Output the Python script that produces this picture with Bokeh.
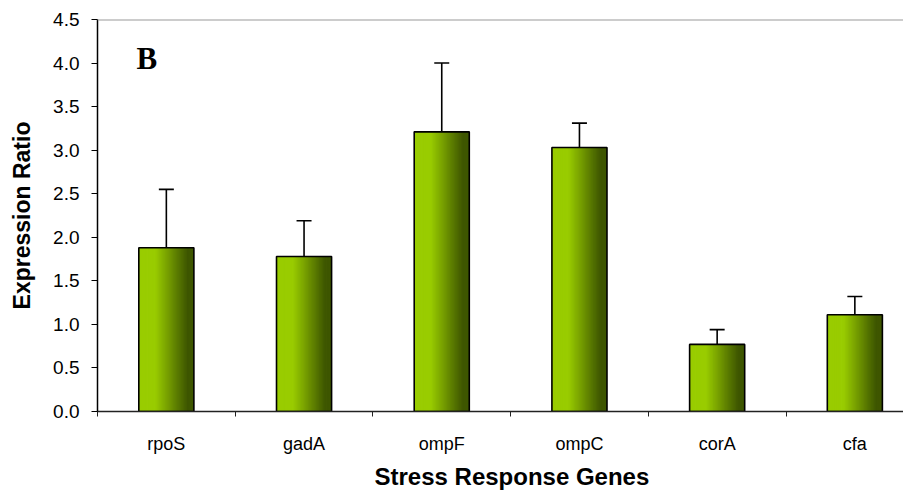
from bokeh.plotting import figure
from bokeh.models import (FixedTicker, Span, Label, Whisker, TeeHead, ColumnDataSource,
                          Range1d, NumeralTickFormatter, Title)
from bokeh.embed import file_html
from bokeh.resources import INLINE

# ---- data ----
genes = ["rpoS", "gadA", "ompF", "ompC", "corA", "cfa"]
ratio = [1.88, 1.78, 3.21, 3.03, 0.77, 1.11]
err_up = [0.67, 0.41, 0.79, 0.28, 0.17, 0.21]
y_ticks = [0.0, 0.5, 1.0, 1.5, 2.0, 2.5, 3.0, 3.5, 4.0, 4.5]

FONT = "Liberation Sans"
BAR_W = 0.4
LIGHT = (153, 204, 0)
DARK = (62, 86, 0)


def shade(t):
    # horizontal gradient: light on left, dark olive on right
    if t <= 0.3:
        f = 0.0
    elif t >= 0.88:
        f = 1.0
    else:
        f = (t - 0.3) / 0.58
    r, g, b = (round(LIGHT[j] + (DARK[j] - LIGHT[j]) * f) for j in range(3))
    return "#%02x%02x%02x" % (r, g, b)


xs = list(range(len(genes)))

W = 903
LEFT = 97
x_end = -0.5 + (W - LEFT) / 137.7

p = figure(width=W, height=495, x_range=Range1d(-0.5, x_end), y_range=Range1d(0, 4.5),
           output_backend="svg", toolbar_location=None,
           min_border_left=LEFT, min_border_top=19, min_border_bottom=84, min_border_right=0)
p.outline_line_color = None
p.background_fill_color = "white"
p.xgrid.visible = False
p.ygrid.visible = False

# gradient bars as thin strips
N = 40
lefts, rights, tops, cols = [], [], [], []
for xi, v in zip(xs, ratio):
    x0 = xi - BAR_W / 2
    step = BAR_W / N
    for k in range(N):
        l = x0 + k * step
        r = l + step * (1.6 if k < N - 1 else 1.0)
        lefts.append(l)
        rights.append(r)
        tops.append(v)
        cols.append(shade((k + 0.5) / N))
p.quad(left=lefts, right=rights, bottom=0, top=tops, fill_color=cols, line_color=None)

p.vbar(x=xs, top=ratio, width=BAR_W, fill_color=None, line_color="black", line_width=1.6)

upper = [v + e for v, e in zip(ratio, err_up)]
src = ColumnDataSource(dict(x=xs, lo=ratio, hi=upper))
p.add_layout(Whisker(source=src, base="x", lower="lo", upper="hi",
                     line_color="black", line_width=1.6,
                     upper_head=TeeHead(size=15, line_color="black", line_width=1.6),
                     lower_head=None))

p.add_layout(Span(location=4.5, dimension="width", line_color="#999999", line_width=2))

# y axis
p.yaxis.ticker = FixedTicker(ticks=y_ticks)
p.yaxis.formatter = NumeralTickFormatter(format="0.0")
p.yaxis.minor_tick_line_color = None
p.yaxis.major_tick_in = 0
p.yaxis.major_tick_out = 6
p.yaxis.major_tick_line_color = "black"
p.yaxis.major_tick_line_width = 1
p.yaxis.axis_line_color = "black"
p.yaxis.axis_line_width = 1.5
p.yaxis.major_label_text_font = FONT
p.yaxis.major_label_text_font_size = "19px"
p.yaxis.major_label_text_color = "black"
p.yaxis.major_label_standoff = 12
p.yaxis.axis_label = "Expression Ratio"
p.yaxis.axis_label_text_font = FONT
p.yaxis.axis_label_text_font_style = "bold"
p.yaxis.axis_label_text_font_size = "23px"
p.yaxis.axis_label_text_color = "black"
p.yaxis.axis_label_standoff = 15

# x axis: labels at centres, tick marks at boundaries
p.xaxis.ticker = FixedTicker(ticks=xs, minor_ticks=[i - 0.5 for i in range(len(genes) + 1)])
p.xaxis.major_label_overrides = {i: g for i, g in zip(xs, genes)}
p.xaxis.major_tick_line_color = None
p.xaxis.major_tick_in = 0
p.xaxis.major_tick_out = 0
p.xaxis.minor_tick_in = 0
p.xaxis.minor_tick_out = 5
p.xaxis.minor_tick_line_color = "#222222"
p.xaxis.minor_tick_line_width = 1
p.xaxis.axis_line_color = "#222222"
p.xaxis.axis_line_width = 1.5
p.xaxis.major_label_text_font = FONT
p.xaxis.major_label_text_font_size = "18px"
p.xaxis.major_label_text_color = "black"
p.xaxis.major_label_standoff = 17

p.add_layout(Title(text="Stress Response Genes", align="left", offset=277,
                   text_font=FONT, text_font_style="bold", text_font_size="24px",
                   text_color="black", standoff=8), "below")

p.add_layout(Label(x=-0.217, y=4.05, text="B", text_align="left", text_baseline="alphabetic",
                   text_font="Liberation Serif", text_font_style="bold",
                   text_font_size="31px", text_color="black"))

open("out.html", "w").write(file_html(p, INLINE))
